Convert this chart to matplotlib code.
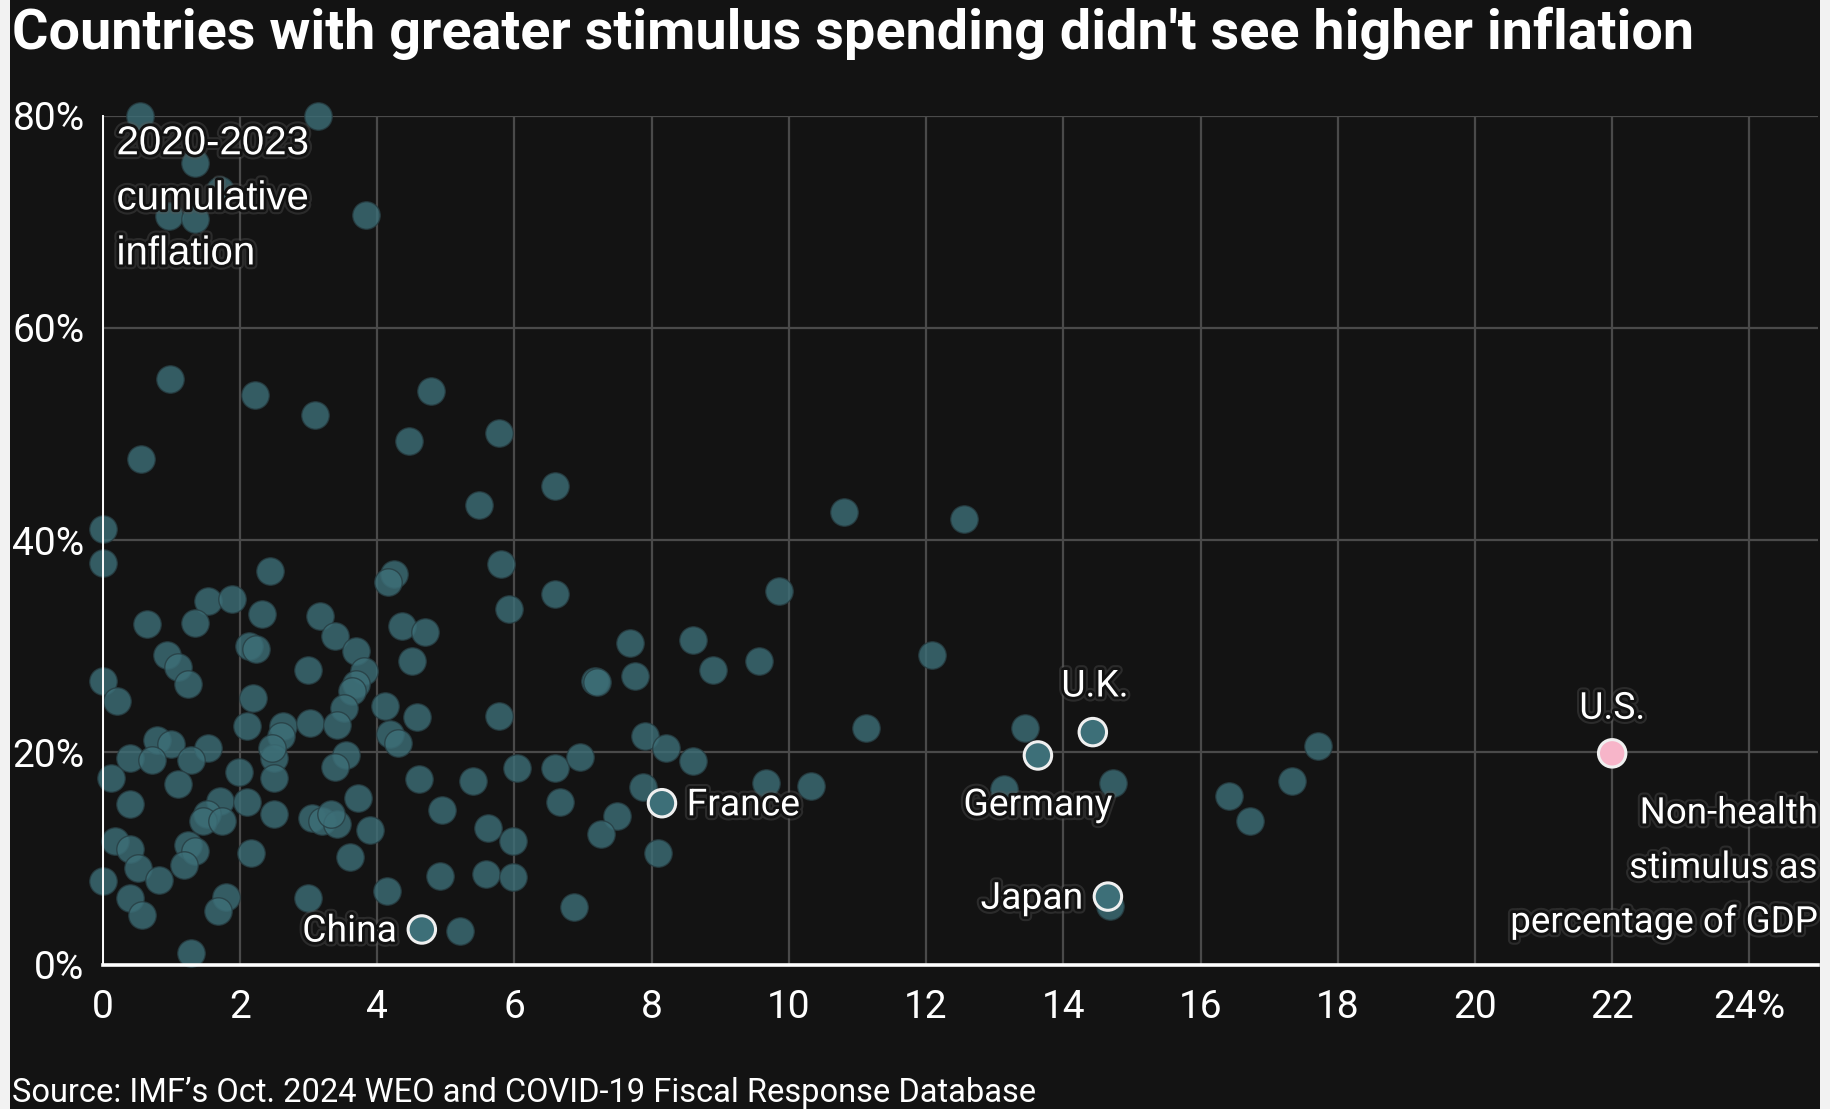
import matplotlib
matplotlib.use("Agg")
import matplotlib.pyplot as plt
from matplotlib import patheffects as pe
from matplotlib.patches import Rectangle

# Non-health COVID stimulus (% of GDP) and 2020-2023 cumulative inflation (%)
stimulus = [
    0.54, 3.13, 1.35, 1.71, 0.96, 1.35, 3.84, 0.98, 2.22, 3.10, 4.79, 4.47, 5.78,
    0.55, 6.59, 5.48, 10.80, 12.55, 0.00, 0.00,
    2.44, 4.25, 4.16, 5.81, 6.59, 5.92, 1.54, 1.88, 0.65, 1.35, 2.32, 3.16, 2.13,
    2.24, 3.38, 4.36, 4.69, 0.93, 1.10, 1.24, 3.69, 3.80, 3.69, 2.99, 4.50, 0.00,
    0.21, 2.19, 3.63, 3.52, 4.11, 4.58, 5.78, 2.10, 2.63, 3.02, 3.41, 2.60, 4.19,
    4.30, 0.79, 1.00, 1.54, 0.40, 0.71, 1.29, 2.49, 2.46, 3.55, 3.38, 0.12, 1.10,
    1.99, 2.49, 4.61, 5.39, 6.03, 6.59, 6.95, 6.67, 7.17, 0.40, 1.71, 2.10, 2.49,
    3.72, 1.52, 1.46, 1.74, 3.05, 3.19, 3.41, 3.33, 3.89, 4.94, 5.61, 5.98, 0.18,
    0.40, 0.51, 1.24, 1.35, 1.18, 2.16, 3.61, 0.00, 0.82, 4.92, 5.59, 5.98, 0.40,
    0.57, 1.79, 1.68, 2.99, 4.14, 6.87, 5.20, 1.29,
    9.86, 7.69, 8.60, 8.89, 9.57, 7.20, 7.76, 12.08, 11.13, 13.44, 7.91, 8.21,
    8.60, 9.67, 10.32, 7.88, 7.49, 7.26, 8.09, 13.13, 14.73, 14.68, 16.42, 16.72,
    17.34, 17.71,
]
inflation = [
    80.0, 80.0, 75.5, 73.0, 70.5, 70.3, 70.6, 55.2, 53.7, 51.8, 54.0, 49.3, 50.1,
    47.6, 45.1, 43.3, 42.6, 42.0, 41.0, 37.8,
    37.1, 36.8, 36.0, 37.7, 34.9, 33.5, 34.3, 34.4, 32.1, 32.2, 33.0, 32.8, 30.0,
    29.7, 31.0, 31.9, 31.3, 29.2, 28.0, 26.4, 29.5, 27.7, 26.4, 27.8, 28.6, 26.7,
    24.8, 25.1, 25.8, 24.2, 24.4, 23.3, 23.4, 22.5, 22.5, 22.8, 22.6, 21.5, 21.7,
    20.9, 21.2, 20.8, 20.4, 19.5, 19.3, 19.3, 19.5, 20.4, 19.7, 18.6, 17.6, 17.0,
    18.1, 17.6, 17.5, 17.3, 18.5, 18.5, 19.6, 15.3, 26.7, 15.1, 15.4, 15.3, 14.2,
    15.7, 14.2, 13.5, 13.5, 13.8, 13.5, 13.2, 14.2, 12.7, 14.6, 12.9, 11.6, 11.6,
    10.9, 9.1, 11.3, 10.7, 9.4, 10.5, 10.1, 7.9, 8.0, 8.3, 8.5, 8.2, 6.3,
    4.7, 6.4, 5.0, 6.3, 6.9, 5.4, 3.2, 1.1,
    35.2, 30.3, 30.6, 27.8, 28.6, 26.6, 27.2, 29.2, 22.3, 22.3, 21.5, 20.4,
    19.2, 17.1, 16.8, 16.7, 14.0, 12.3, 10.5, 16.5, 17.1, 5.5, 15.9, 13.5,
    17.3, 20.6,
]

# Labelled economies
named = ["China", "France", "Germany", "U.K.", "Japan", "U.S."]
named_stimulus = [4.65, 8.15, 13.63, 14.43, 14.65, 22.0]
named_inflation = [3.3, 15.2, 19.7, 21.9, 6.4, 19.9]

x_ticks = [0, 2, 4, 6, 8, 10, 12, 14, 16, 18, 20, 22, 24]
x_tick_labels = ["0", "2", "4", "6", "8", "10", "12", "14", "16", "18", "20", "22", "24%"]
y_ticks = [0, 20, 40, 60, 80]
y_tick_labels = ["0%", "20%", "40%", "60%", "80%"]

BG = "#131313"
DOT = "#3d6f78"
NARROW = ["Roboto", "DejaVu Sans"]
REGULAR = ["Liberation Sans", "DejaVu Sans"]

fig = plt.figure(figsize=(18.31, 11.09), dpi=100, facecolor=BG)
fig.patches.append(Rectangle((0, 0), 10 / 1831, 1, transform=fig.transFigure,
                             facecolor="#f2f2f2", edgecolor="none", zorder=0))
fig.patches.append(Rectangle((1 - 11 / 1831, 0), 11 / 1831, 1, transform=fig.transFigure,
                             facecolor="#f2f2f2", edgecolor="none", zorder=0))

ax = fig.add_axes([102.8 / 1831, 1 - 964.5 / 1109, (1818 - 102.8) / 1831, (964.5 - 115.6) / 1109])
ax.set_facecolor(BG)
ax.set_xlim(0, 25)
ax.set_ylim(0, 80)

ax.set_xticks(x_ticks)
ax.set_xticklabels(x_tick_labels)
ax.set_yticks(y_ticks)
ax.set_yticklabels(y_tick_labels)
ax.tick_params(axis="both", length=0, colors="white", labelsize=28)
ax.tick_params(axis="x", pad=18)
ax.tick_params(axis="y", pad=13)
for lab in ax.get_xticklabels() + ax.get_yticklabels():
    lab.set_family(NARROW)

ax.grid(True, color="#4a4a4a", linewidth=1.6, zorder=0)
ax.set_axisbelow(True)
for side in ["top", "right"]:
    ax.spines[side].set_visible(False)
ax.spines["left"].set_color("white")
ax.spines["left"].set_linewidth(1.4)
ax.spines["bottom"].set_color("white")
ax.spines["bottom"].set_linewidth(2.6)
ax.spines["bottom"].set_zorder(5)

# Background countries
ax.scatter(stimulus, inflation, s=390, facecolor=DOT, edgecolor="#273d42",
           linewidth=1.0, alpha=0.8, zorder=2, clip_on=False)

# Highlighted countries
colors = [DOT, DOT, DOT, DOT, DOT, "#f7b5c9"]
ax.scatter(named_stimulus, named_inflation, s=390, facecolor=colors,
           edgecolor="#f0f0f0", linewidth=2.2, zorder=4, clip_on=False)

halo = [pe.Stroke(linewidth=7, foreground="#5a5a5a", alpha=0.35),
        pe.Stroke(linewidth=4, foreground="#121212"), pe.Normal()]

label_kw = dict(color="white", fontsize=26, family=NARROW, zorder=6, path_effects=halo)
country_labels = [
    ax.text(4.29, 3.1, "China", ha="right", va="center", **label_kw),
    ax.text(8.51, 15.0, "France", ha="left", va="center", **label_kw),
    ax.text(13.63, 15.0, "Germany", ha="center", va="center", **label_kw),
    ax.text(14.46, 26.2, "U.K.", ha="center", va="center", **label_kw),
    ax.text(14.29, 6.2, "Japan", ha="right", va="center", **label_kw),
    ax.text(22.0, 24.1, "U.S.", ha="center", va="center", **label_kw),
]

y_note = ax.text(0.2, 72.2, "2020-2023\ncumulative\ninflation", ha="left", va="center",
                 color="white", fontsize=28, family=REGULAR, linespacing=1.57,
                 zorder=6, path_effects=halo)
x_note = ax.text(25.0, 9.1, "Non-health\nstimulus as\npercentage of GDP", ha="right",
                 va="center", multialignment="right", color="white", fontsize=26,
                 family=NARROW, linespacing=1.66, zorder=6, path_effects=halo)

title = fig.text(12 / 1831, 1 - 49 / 1109,
                 "Countries with greater stimulus spending didn't see higher inflation",
                 ha="left", va="baseline", color="white", fontsize=36, fontweight="bold",
                 family=NARROW)
source = fig.text(12 / 1831, 1 - 1102 / 1109,
                  "Source: IMF\u2019s Oct. 2024 WEO and COVID-19 Fiscal Response Database",
                  ha="left", va="baseline", color="white", fontsize=22, family=NARROW)

# Size texts to their intended pixel widths
fig.canvas.draw()
renderer = fig.canvas.get_renderer()


def fit_width(texts, target_px, ref=None):
    ref = ref or texts[0]
    width = ref.get_window_extent(renderer).width
    scale = target_px / width
    for t in texts:
        t.set_fontsize(t.get_fontsize() * scale)


fit_width([title], 1681)
fit_width([source], 1023)
fit_width([y_note], 193)
fit_width([x_note], 308)
fit_width(country_labels, 149, ref=country_labels[2])

fig.savefig("out.png", dpi=100, facecolor=BG)
